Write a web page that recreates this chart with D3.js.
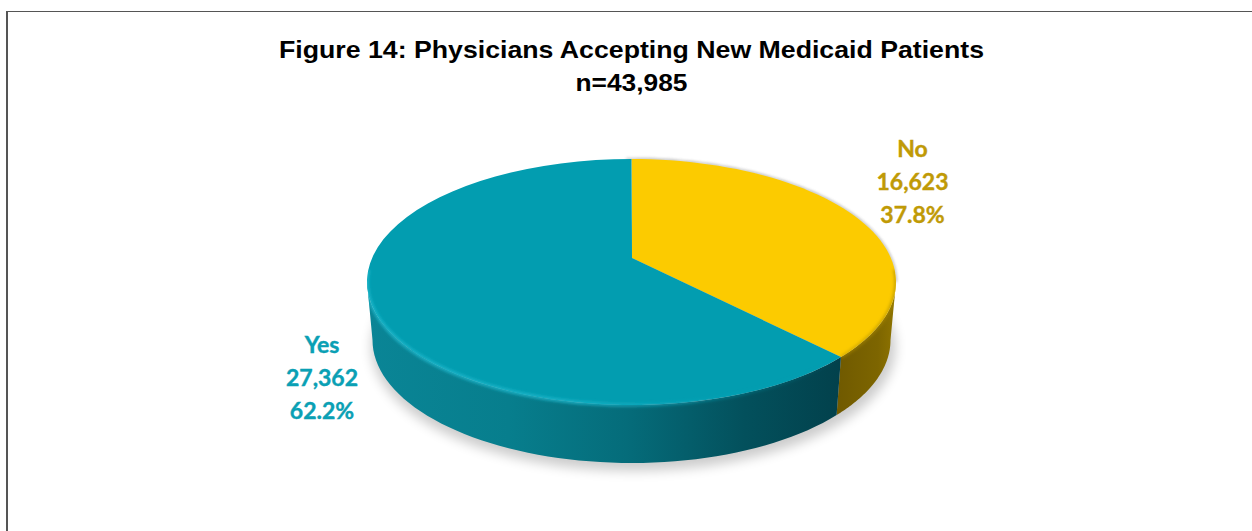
<!DOCTYPE html>
<html>
<head>
<meta charset="utf-8">
<script src="https://cdn.jsdelivr.net/npm/d3@7"></script>
<style>
html, body { margin: 0; padding: 0; background: #fff; overflow: hidden; }
svg { display: block; }
</style>
</head>
<body>
<div id="vis"></div>
<script>
const width = 1252;
const height = 531;

// data
const titleLines = ["Figure 14: Physicians Accepting New Medicaid Patients", "n=43,985"];
const categories = ["No", "Yes"];
const counts = [16623, 27362];
const countLabels = ["16,623", "27,362"];
const percentLabels = ["37.8%", "62.2%"];

const sliceColors = ["#fccb00", "#029db0"];
const labelColors = ["#c09a06", "#0aa0b4"];

// tilted pie geometry: top face, bottom face, and where the slices meet
const top_ = {cx: 631.5, cy: 282, rx: 264.5, ry: 123};
const bottom_ = {cx: 631.5, cy: 340, rx: 259, ry: 123};
const apex = {x: 632, y: 258};

// perspective moves the centre of the circle, so pie angles get squeezed
const r = (top_.cy - apex.y) / top_.ry;
const rp = r / (1 + Math.sqrt(1 - r * r));
const k = (1 - rp) / (1 + rp);
const project = a => 2 * Math.atan2(k * Math.sin(a / 2), Math.cos(a / 2));

const pt = (e, phi) => [e.cx + e.rx * Math.sin(phi), e.cy - e.ry * Math.cos(phi)];
const arcPts = (e, a0, a1) => d3.range(0, 61).map(i => pt(e, a0 + (a1 - a0) * i / 60));
const line = d3.line();

const arcs = d3.pie().sort(null)(counts).map((d, i) => {
  let start = project(d.startAngle);
  let end = project(d.endAngle);
  if (end <= start) end += 2 * Math.PI;
  return {i, start, end};
});

const svg = d3.select("#vis").append("svg")
    .attr("width", width)
    .attr("height", height);

const defs = svg.append("defs");
defs.append("filter").attr("id", "blurBig")
    .attr("x", "-10%").attr("y", "-20%").attr("width", "120%").attr("height", "140%")
  .append("feGaussianBlur").attr("stdDeviation", 6);
defs.append("filter").attr("id", "blurRim")
    .attr("x", "-5%").attr("y", "-5%").attr("width", "110%").attr("height", "110%")
  .append("feGaussianBlur").attr("stdDeviation", 1.6);

function hGrad(id, x0, x1, stops) {
  const g = defs.append("linearGradient").attr("id", id)
      .attr("gradientUnits", "userSpaceOnUse")
      .attr("x1", x0).attr("x2", x1).attr("y1", 0).attr("y2", 0);
  stops.forEach(s => g.append("stop")
      .attr("offset", s[0]).attr("stop-color", s[1]).attr("stop-opacity", s[2] === undefined ? 1 : s[2]));
}
hGrad("wall1", 367, 840, [[0, "#0a8596"], [0.3, "#077e8d"], [0.55, "#056c7a"], [0.8, "#03505c"], [1, "#02414c"]]);
hGrad("wall0", 835, 896, [[0, "#6f5900"], [0.7, "#7d6500"], [1, "#8f7400"]]);
hGrad("rim1", 367, 840, [[0, "#1fb9ce", 0.85], [0.45, "#1cb6cb", 0.85], [0.7, "#12a8bc", 0.45], [1, "#029db0", 0]]);
hGrad("rim0", 835, 896, [[0, "#b89400", 0.45], [1, "#a88800", 0.6]]);

// border, only top and left survive in the crop
svg.append("line").attr("x1", 6).attr("x2", width).attr("y1", 11.5).attr("y2", 11.5)
    .attr("stroke", "#555").attr("stroke-width", 1);
svg.append("line").attr("x1", 7).attr("x2", 7).attr("y1", 11).attr("y2", height)
    .attr("stroke", "#555").attr("stroke-width", 2);

// soft shadow under the pie
svg.append("ellipse")
    .attr("cx", bottom_.cx + 2).attr("cy", bottom_.cy + 7)
    .attr("rx", bottom_.rx + 3).attr("ry", bottom_.ry + 1)
    .attr("fill", "#000").attr("opacity", 0.2)
    .attr("filter", "url(#blurBig)");

// walls, only the front half of the rim (90 to 270 deg) shows
const frontFrom = Math.PI / 2;
const frontTo = 3 * Math.PI / 2;
const wallPath = d => {
  const a0 = Math.max(d.start, frontFrom);
  const a1 = Math.min(d.end, frontTo);
  return line(arcPts(top_, a0, a1).concat(arcPts(bottom_, a1, a0))) + "Z";
};
svg.append("g").selectAll("path")
  .data(arcs)
  .join("path")
    .attr("d", wallPath)
    .attr("fill", d => `url(#wall${d.i})`);

// thin dark edge behind the top face
svg.append("path")
    .attr("d", line(arcPts(top_, -0.02, frontFrom)))
    .attr("fill", "none").attr("stroke", "#555").attr("stroke-width", 1.2)
    .attr("opacity", 0.75).attr("filter", "url(#blurRim)");

// top face slices
svg.append("g").selectAll("path")
  .data(arcs)
  .join("path")
    .attr("d", d => line([[apex.x, apex.y]].concat(arcPts(top_, d.start, d.end))) + "Z")
    .attr("fill", d => sliceColors[d.i]);

// bevel highlight along the front rim, kept inside the solid
const clip = defs.append("clipPath").attr("id", "solidClip");
clip.append("path").attr("d", line(arcPts(top_, 0, 2 * Math.PI)) + "Z");
arcs.forEach(d => clip.append("path").attr("d", wallPath(d)));
svg.append("g").attr("clip-path", "url(#solidClip)")
  .append("g").selectAll("path")
  .data(arcs)
  .join("path")
    .attr("d", d => line(arcPts(top_, Math.max(d.start, frontFrom - 0.1), Math.min(d.end, frontTo + 0.1))))
    .attr("fill", "none")
    .attr("stroke", d => `url(#rim${d.i})`)
    .attr("stroke-width", 3.5)
    .attr("filter", "url(#blurRim)");

// title, the source image is stretched sideways so fit it to the measured width
const titleWidths = [705, 112];
const titleBaselines = [58, 91];
svg.append("g").selectAll("text")
  .data(titleLines)
  .join("text")
    .attr("x", 631.5)
    .attr("y", (d, i) => titleBaselines[i])
    .attr("text-anchor", "middle")
    .attr("font-family", "'Liberation Sans', Arial, sans-serif")
    .attr("font-weight", "bold")
    .attr("font-size", 24)
    .attr("textLength", (d, i) => titleWidths[i])
    .attr("lengthAdjust", "spacingAndGlyphs")
    .attr("fill", "#000")
    .text(d => d);

// labels
const labelPos = [{x: 912.5, y: 157}, {x: 322, y: 352.5}];
const label = svg.append("g").selectAll("g")
  .data(categories)
  .join("g")
    .attr("transform", (d, i) => `translate(${labelPos[i].x},${labelPos[i].y})`);
label.selectAll("text")
  .data((d, i) => [d, countLabels[i], percentLabels[i]].map(t => ({t, i})))
  .join("text")
    .attr("y", (d, j) => j * 33.2)
    .attr("text-anchor", "middle")
    .attr("font-family", "Lato, sans-serif")
    .attr("font-weight", "bold")
    .attr("font-size", 23)
    .attr("fill", d => labelColors[d.i])
    .attr("stroke", d => labelColors[d.i])
    .attr("stroke-width", 0.4)
    .text(d => d.t);
</script>
</body>
</html>
